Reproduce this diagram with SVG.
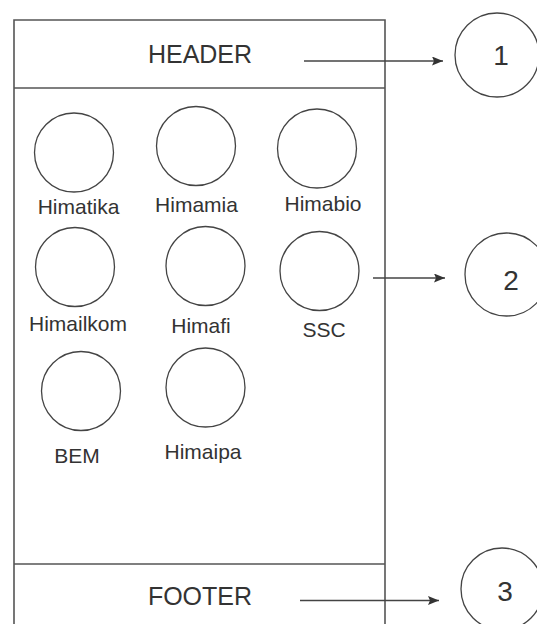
<svg xmlns="http://www.w3.org/2000/svg" width="537" height="624" viewBox="0 0 537 624">
<style>
.frame{fill:none;stroke:#555;stroke-width:1.6}
.c{fill:none;stroke:#444;stroke-width:1.3}
.t{font-family:"Liberation Sans",Arial,sans-serif;fill:#333;text-anchor:middle}
.lbl{font-size:21px}
.big{font-size:25px}
.num{font-size:28px}
.conn{stroke:#444;stroke-width:1.4;fill:none;marker-end:url(#ah)}
</style>
<defs>
<marker id="ah" markerUnits="userSpaceOnUse" markerWidth="11" markerHeight="9" refX="11" refY="4.5" orient="auto">
<path d="M0,0 L11,4.5 L0,9 L2,4.5 z" fill="#333"/>
</marker>
</defs>
<rect width="537" height="624" fill="#fff"/>
<g id="frame">
<path class="frame" d="M14,630 V20 H385 V630 M14,88 H385 M14,564 H385"/>
</g>
<g id="header"><text class="t big" x="200" y="63">HEADER</text></g>
<g id="footer"><text class="t big" x="200" y="605">FOOTER</text></g>
<g id="himatika"><circle class="c" cx="74" cy="152.5" r="39.5"/><text class="t lbl" x="78.5" y="214">Himatika</text></g>
<g id="himamia"><circle class="c" cx="196" cy="146" r="39.5"/><text class="t lbl" x="196.5" y="212">Himamia</text></g>
<g id="himabio"><circle class="c" cx="317" cy="148.5" r="39.5"/><text class="t lbl" x="323" y="211">Himabio</text></g>
<g id="himailkom"><circle class="c" cx="75" cy="267" r="39.5"/><text class="t lbl" x="78" y="331">Himailkom</text></g>
<g id="himafi"><circle class="c" cx="205.5" cy="266" r="39.5"/><text class="t lbl" x="201" y="333">Himafi</text></g>
<g id="ssc"><circle class="c" cx="319.5" cy="271" r="39.5"/><text class="t lbl" x="324" y="337">SSC</text></g>
<g id="bem"><circle class="c" cx="81" cy="391" r="39.5"/><text class="t lbl" x="77" y="463">BEM</text></g>
<g id="himaipa"><circle class="c" cx="205.5" cy="387.5" r="39.5"/><text class="t lbl" x="203" y="459">Himaipa</text></g>
<g id="n1"><circle class="c" cx="497" cy="55" r="42"/><text class="t num" x="501" y="65">1</text></g>
<g id="n2"><circle class="c" cx="506.5" cy="274.5" r="41.5"/><text class="t num" x="511" y="290">2</text></g>
<g id="n3"><circle class="c" cx="502" cy="589" r="41"/><text class="t num" x="505" y="601">3</text></g>
<g id="connectors">
<line class="conn" x1="304" y1="61" x2="443" y2="61"/>
<line class="conn" x1="373" y1="278" x2="445" y2="278"/>
<line class="conn" x1="300" y1="600.5" x2="439" y2="600.5"/>
</g>
</svg>
